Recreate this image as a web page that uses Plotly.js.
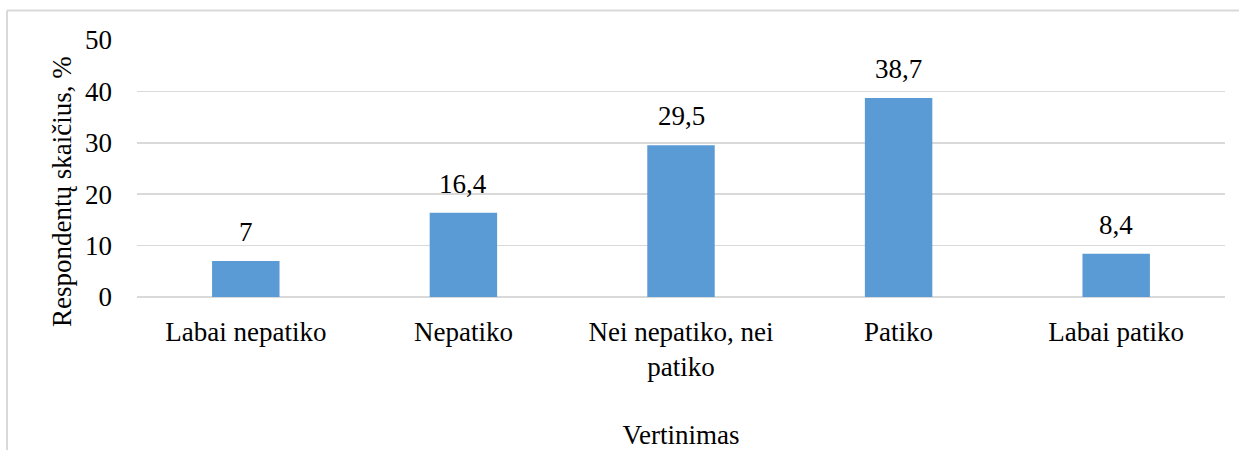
<!DOCTYPE html>
<html>
<head>
<meta charset="utf-8">
<script src="https://cdn.plot.ly/plotly-3.0.1.min.js"></script>
<style>
  html, body { margin: 0; padding: 0; background: #ffffff; }
  #chart { width: 1239px; height: 450px; }
  #chart text { font-family: "Liberation Serif", "DejaVu Serif", serif !important; }
</style>
</head>
<body>
<div id="chart"></div>
<script>
const categories = ["Labai nepatiko", "Nepatiko", "Nei nepatiko, nei<br>patiko", "Patiko", "Labai patiko"];
const values = [7, 16.4, 29.5, 38.7, 8.4];
const yTickValues = [0, 10, 20, 30, 40, 50];
const xTitle = "Vertinimas";
const yTitle = "Respondentų skaičius, %";

const FONT = "Liberation Serif";
const BAR = "#5B9BD5";
const GRID = "#D9D9D9";

const W = 1239, H = 450;
const m = { l: 137, r: 14, t: 40, b: 153 };
const pw = W - m.l - m.r, ph = H - m.t - m.b;
const px = x => (x - m.l) / pw;          // pixel -> paper x
const py = y => (H - m.b - y) / ph;       // pixel -> paper y

const trace = {
  type: "bar",
  x: categories,
  y: values,
  marker: { color: BAR },
  hoverinfo: "x+y",
  showlegend: false
};

const labels = categories.map((c, i) => ({
  x: c, y: values[i], xref: "x", yref: "y",
  text: String(values[i]).replace(".", ","),
  showarrow: false, yanchor: "bottom", yshift: 12,
  font: { family: FONT, size: 27, color: "#000000" }
}));

labels.push({
  xref: "paper", yref: "paper",
  x: px(62), y: py(192),
  xanchor: "center", yanchor: "middle",
  text: yTitle, textangle: -90, showarrow: false,
  font: { family: FONT, size: 27, color: "#000000" }
});

const layout = {
  width: W, height: H,
  margin: m,
  paper_bgcolor: "#ffffff",
  plot_bgcolor: "#ffffff",
  bargap: 0.69,
  font: { family: FONT, size: 27, color: "#000000" },
  xaxis: {
    type: "category",
    showgrid: false,
    zeroline: false,
    showline: false,
    ticks: "",
    ticklabelstandoff: 16,
    tickfont: { family: FONT, size: 27, color: "#000000" },
    title: { text: xTitle, standoff: 46, font: { family: FONT, size: 27, color: "#000000" } },
    automargin: false
  },
  yaxis: {
    range: [0, 50],
    tickvals: yTickValues,
    ticktext: yTickValues.map(String),
    showgrid: true,
    gridcolor: GRID,
    gridwidth: 1.5,
    zeroline: true,
    zerolinecolor: GRID,
    zerolinewidth: 1.5,
    showline: false,
    ticks: "",
    ticklabelstandoff: 24,
    tickfont: { family: FONT, size: 27, color: "#000000" },
    automargin: false
  },
  annotations: labels,
  shapes: [
    { type: "line", xref: "paper", yref: "paper", x0: px(7), x1: px(1245), y0: py(10.5), y1: py(10.5),
      line: { color: GRID, width: 2 } },
    { type: "line", xref: "paper", yref: "paper", x0: px(7), x1: px(7), y0: py(10.5), y1: py(455),
      line: { color: GRID, width: 2 } }
  ]
};

Plotly.newPlot("chart", [trace], layout, { displayModeBar: false, staticPlot: true });
</script>
</body>
</html>
